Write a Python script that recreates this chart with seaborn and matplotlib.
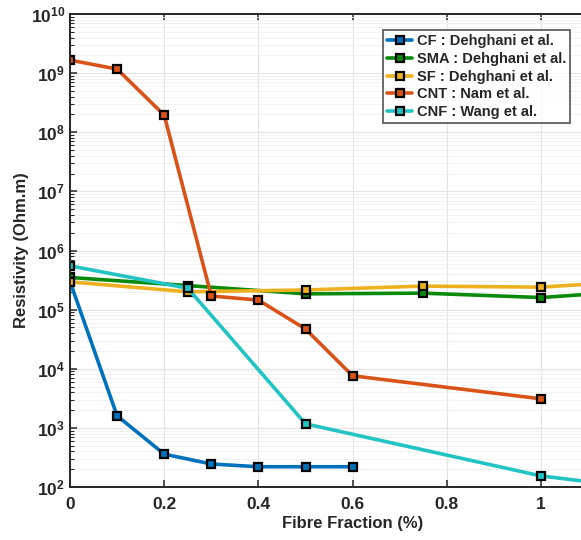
import numpy as np
import pandas as pd
import matplotlib
matplotlib.use("Agg")
import matplotlib.pyplot as plt
import seaborn as sns
from matplotlib.ticker import FixedLocator, NullFormatter

sns.set_theme(style="white")
plt.rcParams['font.family'] = ['Liberation Sans', 'DejaVu Sans']
plt.rcParams['mathtext.fontset'] = 'custom'
plt.rcParams['mathtext.rm'] = 'Liberation Sans'
plt.rcParams['mathtext.bf'] = 'Liberation Sans:bold'

# ---- data ----
cf_x = [0, 0.1, 0.2, 0.3, 0.4, 0.5, 0.6]
cf_y = [3.0e5, 1.6e3, 3.6e2, 2.45e2, 2.2e2, 2.2e2, 2.2e2]

sma_x = [0, 0.25, 0.5, 0.75, 1.0, 1.25]
sma_y = [3.5e5, 2.55e5, 1.85e5, 1.9e5, 1.6e5, 2.2e5]

sf_x = [0, 0.25, 0.5, 0.75, 1.0, 1.25]
sf_y = [2.95e5, 2.0e5, 2.15e5, 2.5e5, 2.4e5, 3.2e5]

cnt_x = [0, 0.1, 0.2, 0.3, 0.4, 0.5, 0.6, 1.0]
cnt_y = [1.66e9, 1.17e9, 1.95e8, 1.7e5, 1.45e5, 4.7e4, 7.6e3, 3.1e3]

cnf_x = [0, 0.25, 0.5, 1.0, 1.5]
cnf_y = [5.5e5, 2.3e5, 1.17e3, 1.54e2, 5.0e1]

x_ticks = [0, 0.2, 0.4, 0.6, 0.8, 1.0]
x_ticklabels = ["0", "0.2", "0.4", "0.6", "0.8", "1"]
y_exponents = [2, 3, 4, 5, 6, 7, 8, 9, 10]

labels = ["CF : Dehghani et al.", "SMA : Dehghani et al.", "SF : Dehghani et al.",
          "CNT : Nam et al.", "CNF : Wang et al."]
colors = ["#0072BD", "#0A8A0A", "#EDB120", "#D95319", "#22C3C3"]

series = [(cf_x, cf_y), (sma_x, sma_y), (sf_x, sf_y), (cnt_x, cnt_y), (cnf_x, cnf_y)]

fig = plt.figure(figsize=(5.81, 5.40), dpi=100)
W, H = 581, 540
x0, x1px = 70, 541
xmax = 1.2
ax = fig.add_axes([x0 / W, (H - 487) / H, (x1px - x0) * xmax / W, (487 - 14) / H])

for (xs, ys), lab, col in zip(series, labels, colors):
    df = pd.DataFrame({"x": xs, "y": ys})
    sns.lineplot(data=df, x="x", y="y", ax=ax, color=col, label=lab, sort=False,
                 marker="s", markersize=5.2, markeredgecolor="black",
                 markeredgewidth=1.6, markerfacecolor=col, linewidth=2.6)

ax.set_yscale("log")
ax.set_ylim(1e2, 1e10)
ax.set_xlim(0, xmax)
ax.set_xticks(x_ticks)
ax.set_xticklabels(x_ticklabels)
major = [10.0 ** e for e in y_exponents]
minor = [m * 10.0 ** e for e in y_exponents[:-1] for m in range(2, 10)]
ax.yaxis.set_major_locator(FixedLocator(major))
ax.set_yticklabels([f"$\\mathbf{{10^{{{e}}}}}$" for e in y_exponents])
ax.yaxis.set_minor_locator(FixedLocator(minor))
ax.yaxis.set_minor_formatter(NullFormatter())

ax.grid(True, which="major", color="#E3E3E3", linewidth=0.8)
ax.grid(True, which="minor", axis="y", color="#F0F0F0", linewidth=0.6)
ax.set_axisbelow(True)

for s in ["left", "bottom", "top", "right"]:
    ax.spines[s].set_color("#262626")
    ax.spines[s].set_linewidth(1.4)

ax.tick_params(axis="both", which="major", direction="in", length=5, width=1.1,
               labelsize=12.5, colors="#262626", left=True, bottom=True, top=True)
ax.tick_params(axis="y", which="minor", direction="in", length=3, width=0.8,
               left=True, colors="#262626")
for t in ax.get_xticklabels() + ax.get_yticklabels():
    t.set_fontweight("bold")
    t.set_color("#262626")
ax.tick_params(axis="x", pad=7)

ax.set_xlabel("Fibre Fraction (%)", fontsize=12, fontweight="bold", color="#262626", labelpad=3)
ax.set_ylabel("Resistivity (Ohm.m)", fontsize=12, fontweight="bold", color="#262626", labelpad=1)

leg = ax.legend(loc="upper left", bbox_to_anchor=(383 / W, (H - 30) / H),
                bbox_transform=fig.transFigure, frameon=True, fancybox=False,
                prop={"family": "Liberation Sans", "weight": "bold", "size": 10.5},
                handlelength=1.7, handletextpad=0.3, borderpad=0.3, labelspacing=0.25,
                borderaxespad=0)
leg.get_frame().set_edgecolor("#262626")
leg.get_frame().set_linewidth(1.2)
for t in leg.get_texts():
    t.set_color("#262626")

fig.savefig("out.png", dpi=100)
